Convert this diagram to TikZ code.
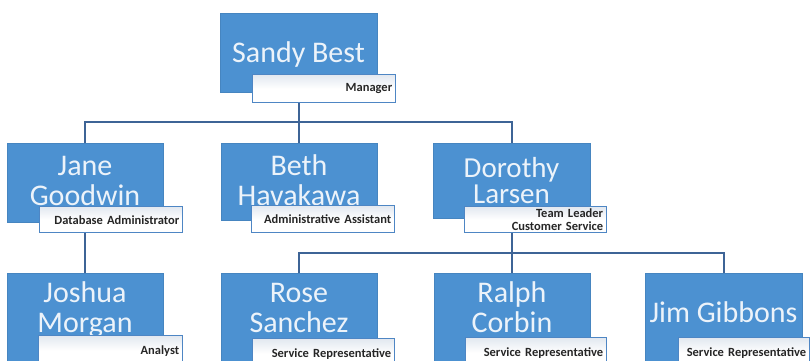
\documentclass[tikz,border=0pt]{standalone}
\usepackage{fontspec}
\setmainfont{Carlito}
\begin{document}
\begin{tikzpicture}[x=1pt,y=-1pt,
  personbox/.style={draw=boxblue!92!black, line width=0.5pt, fill=boxblue,
    anchor=north west, inner sep=0pt},
  nametext/.style={text=nametxt, font=\fontsize{30}{30}\selectfont,
    align=center, inner sep=0pt, anchor=base},
  rolebox/.style={draw=rolebdr, line width=1.4pt, anchor=north west,
    top color=rolegrad, bottom color=white, middle color=white,
    text=black!85, font=\bfseries\fontsize{12.5}{12.5}\selectfont,
    align=right, inner xsep=3.5pt, inner ysep=2pt},
  conn/.style={draw=connblue, line width=1.8pt}]
\definecolor{boxblue}{RGB}{76,145,209}
\definecolor{nametxt}{RGB}{236,243,250}
\definecolor{rolebdr}{RGB}{78,134,196}
\definecolor{rolegrad}{RGB}{226,232,240}
\definecolor{connblue}{RGB}{62,100,150}

\useasboundingbox (0,0) rectangle (812,360);
\clip (0,0) rectangle (812,360);
\fill[white] (0,0) rectangle (812,360);

% bus lines between levels
\coordinate (busA) at (298,122);
\coordinate (busB) at (512,253);

% level 1
\node[personbox, minimum width=157pt, minimum height=79pt] (sandy) at (220,13) {};
\node[nametext] (sandyname) at (298.5,62) {Sandy Best};
\node[rolebox, text width=136pt, minimum height=28pt] (sandyrole) at (252,74) {Manager};

% level 2 (name anchors sit on the last line's baseline)
\node[personbox, minimum width=156pt, minimum height=79pt] (jane) at (7,143) {};
\node[nametext] (janename) at (85,205) {Jane\\Goodwin};
\node[rolebox, text width=136pt, minimum height=26pt] (janerole) at (39,206) {Database Administrator};

\node[personbox, minimum width=156pt, minimum height=77pt] (beth) at (221,143) {};
\node[nametext] (bethname) at (299,205) {Beth\\Havakawa};
\node[rolebox, text width=136pt, minimum height=27pt] (bethrole) at (251,205) {Administrative Assistant};

\node[personbox, minimum width=157pt, minimum height=75pt] (dorothy) at (433,143) {};
\node[nametext, font=\fontsize{29}{26}\selectfont] (dorothyname) at (511.5,203) {Dorothy\\Larsen};
\node[rolebox, text width=135pt, minimum height=26pt] (dorothyrole) at (464,206) {Team Leader\\Customer Service};

% level 3
\node[personbox, minimum width=156pt, minimum height=100pt] (joshua) at (7,273) {};
\node[nametext] (joshuaname) at (85,332) {Joshua\\Morgan};
\node[rolebox, text width=137pt, minimum height=30pt] (joshuarole) at (38,335) {Analyst};

\node[personbox, minimum width=156pt, minimum height=100pt] (rose) at (221,273) {};
\node[nametext] (rosename) at (299,332) {Rose\\Sanchez};
\node[rolebox, text width=135pt, minimum height=30pt] (roserole) at (252,338) {Service Representative};

\node[personbox, minimum width=156pt, minimum height=100pt] (ralph) at (434,273) {};
\node[nametext] (ralphname) at (512,332) {Ralph\\Corbin};
\node[rolebox, text width=134pt, minimum height=30pt] (ralphrole) at (465,337) {Service Representative};

\node[personbox, minimum width=157pt, minimum height=100pt] (jim) at (645,273) {};
\node[nametext] (jimname) at (723.5,322) {Jim Gibbons};
\node[rolebox, text width=124pt, minimum height=30pt] (jimrole) at (678,337) {Service Representative};

% connectors
\draw[conn] (beth.north |- sandyrole.south) -- (beth.north);
\draw[conn] (jane.north) |- (dorothy.north |- busA) -- (dorothy.north);
\draw[conn] (joshua.north |- janerole.south) -- (joshua.north);
\draw[conn] (ralph.north |- dorothyrole.south) -- (ralph.north);
\draw[conn] (rose.north) |- (jim.north |- busB) -- (jim.north);
\end{tikzpicture}
\end{document}
